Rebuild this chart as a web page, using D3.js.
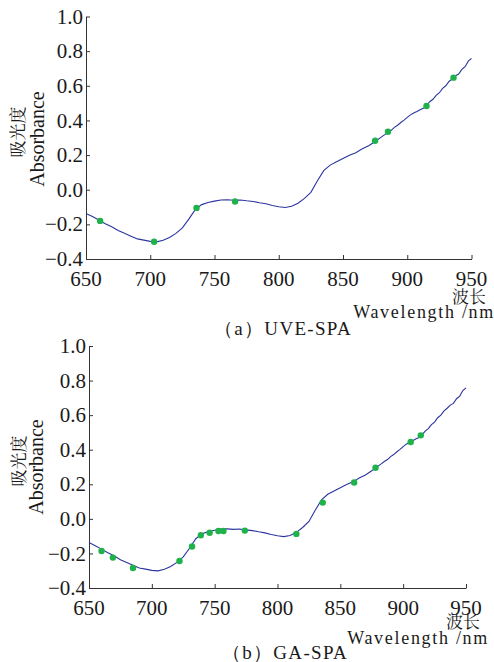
<!DOCTYPE html>
<html><head><meta charset="utf-8">
<script src="https://cdn.jsdelivr.net/npm/d3@7"></script>
<style>
html,body{margin:0;padding:0;background:#fff;}
svg{display:block;}
</style></head>
<body>
<svg id="c" width="494" height="662" font-family="Liberation Serif"></svg>
<script>
// Spectrum (wavelength nm, absorbance)
const wavelengths = [650,655,660,665,670,675,680,685,690,695,700,705,710,715,720,725,730,735,740,745,750,755,760,765,770,775,780,785,790,795,800,805,810,815,820,825,830,835,840,845,850,855,860,865,870,875,880,882.5,885,887.5,890,892.5,895,897.5,900,902.5,905,907.5,910,912.5,915,917.5,920,922.5,925,927.5,930,932.5,935,937.5,940,942.5,945,947.5,950];
const absorbance = [-0.137,-0.155,-0.175,-0.196,-0.214,-0.236,-0.252,-0.268,-0.284,-0.291,-0.298,-0.301,-0.292,-0.276,-0.252,-0.220,-0.170,-0.115,-0.086,-0.074,-0.066,-0.059,-0.058,-0.061,-0.059,-0.064,-0.068,-0.075,-0.081,-0.091,-0.098,-0.103,-0.096,-0.078,-0.050,-0.015,0.050,0.110,0.142,0.161,0.180,0.199,0.214,0.236,0.254,0.278,0.305,0.318,0.332,0.343,0.360,0.372,0.388,0.402,0.418,0.432,0.443,0.452,0.462,0.470,0.486,0.508,0.522,0.545,0.560,0.585,0.600,0.625,0.640,0.658,0.668,0.695,0.710,0.742,0.758];

// Selected wavelengths (a) UVE-SPA
const uveWl = [661,703,736,766,875,885,915,936];
const uveAbs = [-0.180,-0.300,-0.105,-0.068,0.283,0.335,0.483,0.647];
// Selected wavelengths (b) GA-SPA
const gaWl = [660,669,685,722,732,739,746,753,757,774,815,836,861,878,906,914];
const gaAbs = [-0.186,-0.224,-0.284,-0.244,-0.160,-0.095,-0.080,-0.070,-0.070,-0.068,-0.087,0.094,0.210,0.296,0.445,0.483];

const xTicks = [650,700,750,800,850,900,950];
const yTicks = [-0.4,-0.2,0.0,0.2,0.4,0.6,0.8,1.0];
const yLabels = ["\u22120.4","\u22120.2","0.0","0.2","0.4","0.6","0.8","1.0"];

const SERIF = "Liberation Serif";
const CJK = "Noto Serif CJK SC";

const svg = d3.select("#c");
const spec = wavelengths.map((w,i)=>[w,absorbance[i]]);

function txt(font, size){
  return svg.append("text").attr("font-family",font).style("font-family",font)
    .attr("font-size",size).style("font-size",size+"px").attr("fill","#1a1a1a");
}

function panel(cfg, selW, selA, caption){
  const x = d3.scaleLinear().domain([650,950]).range([cfg.x0,cfg.x1]);
  const y = d3.scaleLinear().domain([-0.4,1.0]).range([cfg.y0,cfg.y1]);
  const ax = svg.append("g").attr("transform",`translate(0,${cfg.y0})`)
    .call(d3.axisBottom(x).tickValues(xTicks).tickSizeInner(-4).tickSizeOuter(0).tickFormat(""));
  const ay = svg.append("g").attr("transform",`translate(${cfg.x0},0)`)
    .call(d3.axisLeft(y).tickValues(yTicks).tickSizeInner(-4).tickSizeOuter(0).tickFormat(""));
  [ax,ay].forEach(a=>{
    a.attr("font-family",SERIF);
    a.select(".domain").attr("stroke","#333").attr("stroke-width",1);
    a.selectAll(".tick line").attr("stroke","#333");
    a.selectAll(".tick text").remove();
  });
  xTicks.forEach(d=>{
    txt(SERIF,21).attr("x",x(d)).attr("y",cfg.y0+cfg.xlab).attr("text-anchor","middle").text(d);
  });
  yTicks.forEach((d,i)=>{
    txt(SERIF,21).attr("x",cfg.x0-3).attr("y",y(d)).attr("dy","0.34em").attr("text-anchor","end").text(yLabels[i]);
  });
  svg.append("path").datum(spec)
    .attr("fill","none").attr("stroke","#2b35a0").attr("stroke-width",1.1)
    .attr("d",d3.line().x(d=>x(d[0])).y(d=>y(d[1])));
  svg.append("g").selectAll("circle").data(selW).enter().append("circle")
    .attr("cx",d=>x(d)).attr("cy",(d,i)=>y(selA[i])).attr("r",3.2)
    .attr("fill","#1fb24a");
  txt(CJK,17).attr("transform",`translate(${cfg.ylx1},${cfg.yly1}) rotate(-90)`)
    .attr("text-anchor","middle").text("吸光度");
  txt(SERIF,20).attr("transform",`translate(${cfg.ylx2},${cfg.yly2}) rotate(-90)`)
    .attr("text-anchor","middle").text("Absorbance");
  txt(CJK,17).attr("x",cfg.bcx).attr("y",cfg.bcy).attr("text-anchor","middle").text("波长");
  txt(SERIF,18).attr("x",cfg.wlx).attr("y",cfg.wly).attr("text-anchor","end")
    .attr("letter-spacing","1.7px").text("Wavelength /nm");
  txt(SERIF,19).attr("x",cfg.cx).attr("y",cfg.cy).attr("text-anchor","middle")
    .attr("letter-spacing","1.3px").text(caption);
}

panel({x0:86,x1:471.5,y0:259,y1:16.5,xlab:27,ylx1:24,yly1:132,ylx2:44,yly2:139,
       bcx:469,bcy:303,wlx:495,wly:318,cx:283,cy:335}, uveWl, uveAbs, "（a）UVE-SPA");
panel({x0:89,x1:466,y0:588,y1:346,xlab:27,ylx1:25,yly1:461,ylx2:43,yly2:467,
       bcx:463,bcy:628,wlx:489,wly:644,cx:285,cy:659}, gaWl, gaAbs, "（b）GA-SPA");
</script>
</body></html>
